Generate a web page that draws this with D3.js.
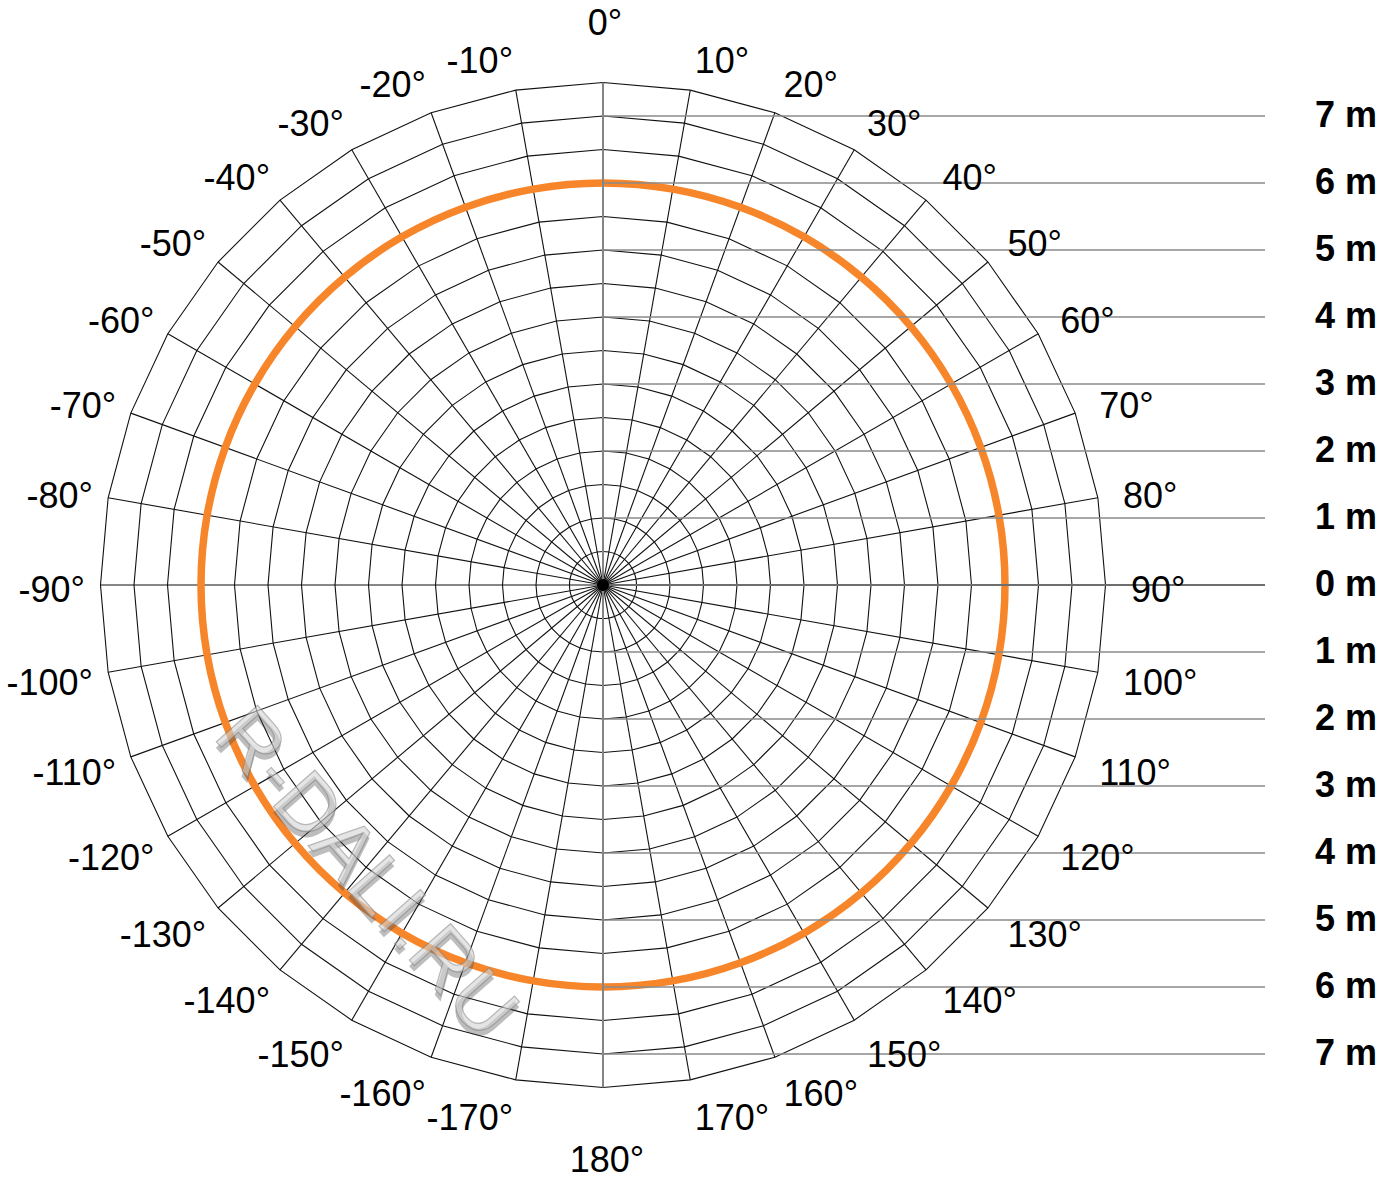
<!DOCTYPE html>
<html>
<head>
<meta charset="utf-8">
<script src="https://cdn.jsdelivr.net/npm/d3@7"></script>
<style>
  html, body { margin: 0; padding: 0; background: #fff; }
  svg { display: block; }
  text { font-family: "Liberation Sans", Arial, Helvetica, sans-serif; }
</style>
</head>
<body>
<svg id="chart" width="1384" height="1181"></svg>
<script>
// ---------- data ----------
const angleTicks = [0, 10, 20, 30, 40, 50, 60, 70, 80, 90, 100, 110, 120, 130, 140, 150, 160, 170, 180,
                    -10, -20, -30, -40, -50, -60, -70, -80, -90, -100, -110, -120, -130, -140, -150, -160, -170];
const angleLabels = angleTicks.map(a => a + "°");
const ringTicks = [0.5, 1, 1.5, 2, 2.5, 3, 3.5, 4, 4.5, 5, 5.5, 6, 6.5, 7, 7.5];
const distanceTicks = [-7, -6, -5, -4, -3, -2, -1, 0, 1, 2, 3, 4, 5, 6, 7];
const distanceLabels = ["7 m", "6 m", "5 m", "4 m", "3 m", "2 m", "1 m", "0 m", "1 m", "2 m", "3 m", "4 m", "5 m", "6 m", "7 m"];
// light cone: distance (m) measured at each angle (deg)
const patternAngles = [0, 10, 20, 30, 40, 50, 60, 70, 80, 90, 100, 110, 120, 130, 140, 150, 160, 170,
                       180, 190, 200, 210, 220, 230, 240, 250, 260, 270, 280, 290, 300, 310, 320, 330, 340, 350];
const patternDistance = [6, 6, 6, 6, 6, 6, 6, 6, 6, 6, 6, 6, 6, 6, 6, 6, 6, 6,
                         6, 6, 6, 6, 6, 6, 6, 6, 6, 6, 6, 6, 6, 6, 6, 6, 6, 6];
const watermark = "R-DALI.RU";

// ---------- layout ----------
const cx = 603, cy = 585;
const svg = d3.select("#chart");
const r = d3.scaleLinear().domain([0, 7.5]).range([0, 502.5]);
const ang = d3.scaleLinear().domain([0, 360]).range([0, 2 * Math.PI]);
const yDist = d3.scaleLinear().domain([0, 7.5]).range([cy, cy - 502.5]);
const lineEndX = 1265;

const g = svg.append("g").attr("transform", `translate(${cx},${cy})`);
const spokeAngles = d3.range(0, 360, 10);

// rings (polygons through spokes)
const ringLine = d3.lineRadial().angle(d => ang(d[0])).radius(d => r(d[1])).curve(d3.curveLinearClosed);
g.selectAll("path.ring").data(ringTicks).join("path")
  .attr("class", "ring")
  .attr("d", v => v === 0.5
      ? d3.lineRadial().angle(a => ang(a)).radius(r(v)).curve(d3.curveCardinalClosed)(d3.range(0, 360, 10))
      : ringLine(spokeAngles.map(a => [a, v])))
  .attr("fill", "none").attr("stroke", "#111").attr("stroke-width", 1.1);

// spokes
g.selectAll("line.spoke").data(spokeAngles).join("line")
  .attr("class", "spoke")
  .attr("x1", 0).attr("y1", 0)
  .attr("x2", a => r(7.5) * Math.sin(ang(a)))
  .attr("y2", a => -r(7.5) * Math.cos(ang(a)))
  .attr("stroke", "#111").attr("stroke-width", 1.1);

// distance guide lines (gray)
const signedY = d => cy + (yDist(0) - yDist(Math.abs(d))) * Math.sign(d);
svg.selectAll("line.dist").data(distanceTicks).join("line")
  .attr("class", "dist")
  .attr("x1", cx).attr("x2", lineEndX)
  .attr("y1", signedY).attr("y2", signedY)
  .attr("stroke", d => d === 0 ? "#6e6e6e" : "#8a8a8a")
  .attr("stroke-width", d => d === 0 ? 2.2 : 1.6);

// vertical axis (gray)
svg.append("line")
  .attr("x1", cx).attr("x2", cx)
  .attr("y1", cy - r(7.5)).attr("y2", cy + r(7.5))
  .attr("stroke", "#858585").attr("stroke-width", 2);

// center dot
svg.append("circle").attr("cx", cx).attr("cy", cy).attr("r", 6).attr("fill", "#000");

// distance labels
svg.selectAll("text.dlab").data(distanceTicks).join("text")
  .attr("class", "dlab")
  .attr("x", 1377)
  .attr("y", d => signedY(d) - 2)
  .attr("text-anchor", "end")
  .attr("dominant-baseline", "central")
  .attr("font-size", 36).attr("font-weight", "bold").attr("fill", "#000")
  .text((d, i) => distanceLabels[i]);

// angle labels
svg.selectAll("text.alab").data(angleTicks).join("text")
  .attr("class", "alab")
  .attr("x", a => {
    if (a === 0) return cx + 2;
    if (a === 180) return cx + 4;
    const s = Math.sin(ang(a));
    return a > 0 ? cx + 528 * s : cx + 518 * s;
  })
  .attr("y", a => {
    if (a === 0) return cy - 563;
    if (a === 180) return cy + 574;
    return cy + 4 - 537 * Math.cos(ang(a));
  })
  .attr("text-anchor", a => (a === 0 || a === 180) ? "middle" : (a > 0 ? "start" : "end"))
  .attr("dominant-baseline", "central")
  .attr("font-size", 36).attr("fill", "#000")
  .text((a, i) => angleLabels[i]);

// watermark
const wm = svg.append("g").attr("transform", "translate(368,872) rotate(48.5)");
const wmText = (dx, dy, fill, stroke, op) => wm.append("text")
  .attr("x", dx).attr("y", dy)
  .attr("text-anchor", "middle").attr("dominant-baseline", "central")
  .attr("font-family", "'Liberation Serif', 'DejaVu Serif', serif")
  .attr("font-size", 80).attr("letter-spacing", 1)
  .attr("fill", fill).attr("stroke", stroke).attr("stroke-width", 1.2)
  .attr("opacity", op)
  .text(watermark);
wmText(4, 4, "#444", "none", 0.35);
wmText(0, 0, "#d4d4d4", "#8a8a8a", 0.6);

// light pattern (orange)
const patternLine = d3.lineRadial()
  .angle((d, i) => ang(patternAngles[i]))
  .radius(d => r(d))
  .curve(d3.curveCardinalClosed);
g.append("path")
  .attr("d", patternLine(patternDistance))
  .attr("fill", "none").attr("stroke", "#f7862b").attr("stroke-width", 7.5);
</script>
</body>
</html>
